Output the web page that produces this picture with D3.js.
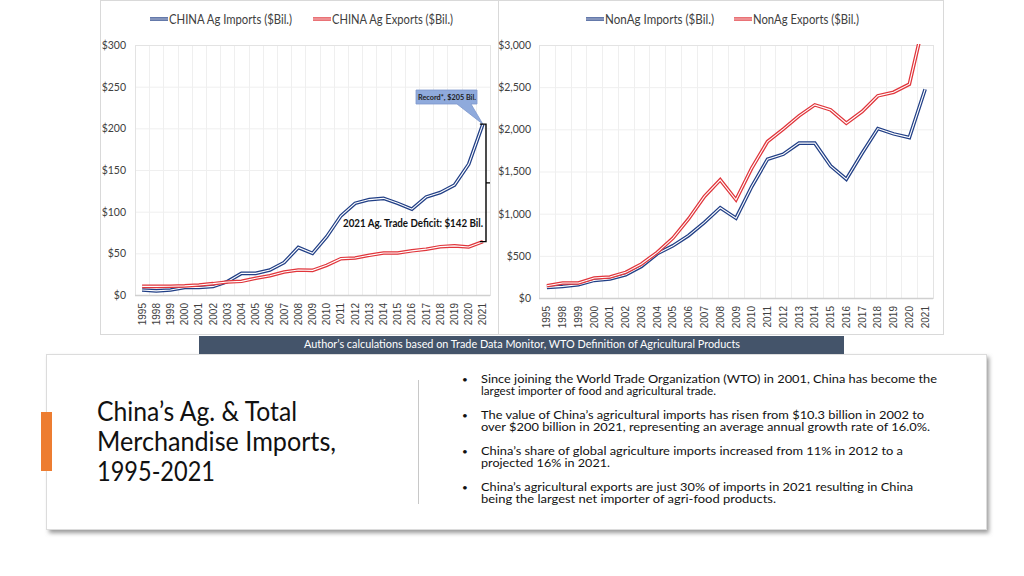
<!DOCTYPE html>
<html><head><meta charset="utf-8">
<script src="https://cdn.jsdelivr.net/npm/d3@7"></script>
<style>
body{margin:0;background:#fff;}
svg{display:block;}
</style></head>
<body>
<svg id="c" width="1024" height="576"></svg>
<script>
const years = ["1995","1998","1999","2000","2001","2002","2003","2004","2005","2006","2007","2008","2009","2010","2011","2012","2013","2014","2015","2016","2017","2018","2019","2020","2021"];
const agImports = [6,5,6,9,9,10.3,16,26,26,30,39,57,50,70,95,110,114.5,116,110,103,117.5,123,132,157,205];
const agExports = [10.4,10.4,10.5,11,12,13.6,15.6,16.4,20,23,27.6,30,29.6,35.6,43.6,44.4,47.6,50.4,50.4,53,55,58,59,57.6,64];
const nonAgImports = [126,138,158,209,225,276,375,525,620,742,896,1070,947,1322,1646,1705,1836,1836,1567,1409,1717,2009,1946,1903,2475];
const nonAgExports = [146,178,178,237,249,304,403,541,711,940,1204,1401,1165,1540,1855,2002,2160,2290,2231,2073,2211,2397,2440,2535,3340];
const agTicks = [0,50,100,150,200,250,300];
const nonAgTicks = [0,500,1000,1500,2000,2500,3000];
const bullets = [
 ["Since joining the World Trade Organization (WTO) in 2001, China has become the","largest importer of food and agricultural trade."],
 ["The value of China\u2019s agricultural imports has risen from $10.3 billion in 2002 to","over $200 billion in 2021, representing an average annual growth rate of 16.0%."],
 ["China\u2019s share of global agriculture imports increased from 11% in 2012 to a","projected 16% in 2021."],
 ["China\u2019s agricultural exports are just 30% of imports in 2021 resulting in China","being the largest net importer of agri-food products."]
];
const titleLines = ["China\u2019s Ag. & Total","Merchandise Imports,","1995-2021"];

const bulletWidths = [[456,235],[443,449],[422,129],[432,295]];
const titleWidths = [200,239,118];

const BLUE = "#213f86", RED = "#e0353b";
const FONT = "Lato,'Liberation Sans',sans-serif";
const SANS = "'Liberation Sans',Arial,sans-serif";
const svg = d3.select("#c");
const defs = svg.append("defs");
const f = defs.append("filter").attr("id","sh").attr("x","-5%").attr("y","-10%").attr("width","110%").attr("height","130%");
f.append("feGaussianBlur").attr("stdDeviation",2);

function fit(sel,w){ return sel.attr("textLength",w).attr("lengthAdjust","spacingAndGlyphs"); }

svg.append("rect").attr("x",100.5).attr("y",0.5).attr("width",398).attr("height",334).attr("fill","#fff").attr("stroke","#d9d9d9");
svg.append("rect").attr("x",498.5).attr("y",0.5).attr("width",445).attr("height",334).attr("fill","#fff").attr("stroke","#d9d9d9");

function chart(opt){
  const g = svg.append("g");
  const x = d3.scaleBand().domain(years).range([opt.x0,opt.x1]);
  const y = d3.scaleLinear().domain([0,opt.max]).range([opt.y0,45]);
  g.selectAll(".hg").data(opt.ticks).join("line")
    .attr("x1",opt.x0).attr("x2",opt.x1).attr("y1",d=>y(d)+0.5).attr("y2",d=>y(d)+0.5)
    .attr("stroke","#efefef");
  g.selectAll(".vg").data(years.slice(1)).join("line")
    .attr("x1",d=>Math.round(x(d))+0.5).attr("x2",d=>Math.round(x(d))+0.5).attr("y1",45).attr("y2",opt.y0)
    .attr("stroke","#efefef");
  g.append("rect").attr("x",opt.x0+0.5).attr("y",45.5).attr("width",opt.x1-opt.x0).attr("height",opt.y0-45)
    .attr("fill","none").attr("stroke","#e3e3e3");
  g.append("line").attr("x1",opt.x0).attr("x2",opt.x1).attr("y1",opt.y0+0.5).attr("y2",opt.y0+0.5).attr("stroke","#d0d0d0").attr("stroke-width",1.5);
  const ya = d3.axisLeft(y).tickValues(opt.ticks).tickSize(0).tickPadding(0).tickFormat(opt.fmt);
  const yg = g.append("g").attr("transform",`translate(${opt.ylab},0)`).call(ya);
  yg.select(".domain").remove();
  yg.selectAll("text").attr("font-family",FONT).attr("font-size","10.5px").attr("fill","#404040");
  const xa = d3.axisBottom(x).tickSize(0).tickPadding(0);
  const xg = g.append("g").attr("transform",`translate(0,${opt.y0+8})`).call(xa);
  xg.select(".domain").remove();
  xg.selectAll("text").attr("transform","rotate(-90)").attr("text-anchor","end").attr("dy","0.35em").attr("dx","0")
    .attr("x",0).attr("y",0)
    .attr("font-family",SANS).attr("font-size","10px").attr("fill","#404040");
  const cid = "clip"+opt.id;
  defs.append("clipPath").attr("id",cid).append("rect").attr("x",opt.x0).attr("y",44).attr("width",opt.x1-opt.x0).attr("height",opt.y0-40);
  const line = d3.line().x((d,i)=>x(years[i])+x.bandwidth()/2).y(d=>y(d));
  const lg = g.append("g").attr("clip-path",`url(#${cid})`);
  [[opt.b,BLUE],[opt.r,RED]].forEach(([data,col])=>{
    lg.append("path").attr("d",line(data)).attr("fill","none").attr("stroke",col).attr("stroke-width",3.6).attr("stroke-linejoin","miter");
    lg.append("path").attr("d",line(data)).attr("fill","none").attr("stroke","#fff").attr("stroke-width",1.1).attr("stroke-linejoin","miter");
  });
  opt.leg.forEach(L=>{
    const col = L.c;
    g.append("line").attr("x1",L.x).attr("x2",L.x+18).attr("y1",19).attr("y2",19).attr("stroke",col).attr("stroke-width",3.4);
    g.append("line").attr("x1",L.x).attr("x2",L.x+18).attr("y1",19).attr("y2",19).attr("stroke","#fff").attr("stroke-width",0.9);
    fit(g.append("text").attr("x",L.x+19).attr("y",23.5).text(L.t).attr("font-family",FONT).attr("font-size","13px").attr("fill","#404040"),L.w);
  });
  return {x,y};
}

const L = chart({id:"a",x0:135,x1:490,y0:295,max:300,ticks:agTicks,fmt:d=>"$"+d3.format(",")(d),ylab:126,b:agImports,r:agExports,
  leg:[{x:150,c:BLUE,t:"CHINA Ag Imports ($Bil.)",w:123},{x:313,c:RED,t:"CHINA Ag Exports ($Bil.)",w:121}]});
const R = chart({id:"b",x0:539,x1:933,y0:298,max:3000,ticks:nonAgTicks,fmt:d=>"$"+d3.format(",")(d),ylab:531,b:nonAgImports,r:nonAgExports,
  leg:[{x:586,c:BLUE,t:"NonAg Imports ($Bil.)",w:109},{x:734,c:RED,t:"NonAg Exports ($Bil.)",w:106}]});

const last = years.length-1;
const px = L.x(years[last]) + L.x.bandwidth()/2;
const pyTop = L.y(agImports[last]), pyBot = L.y(agExports[last]);
svg.append("path").attr("d",`M416,90 L477,90 L477,104 L471,104 L${px},${pyTop} L457,104 L416,104 Z`)
  .attr("fill","#8faadc").attr("stroke","#7d97cc").attr("stroke-width",0.8);
fit(svg.append("text").attr("x",418).attr("y",100.3).text("Record*, $205 Bil.")
  .attr("font-family",FONT).attr("font-weight","bold").attr("font-size","8.4px").attr("fill","#222"),58);
const bx = 486;
svg.append("path").attr("d",`M${px-3},${pyTop} L${bx},${pyTop} L${bx},${pyBot} L${px-3},${pyBot} M${bx},${(pyTop+pyBot)/2} L${bx+4},${(pyTop+pyBot)/2}`)
  .attr("fill","none").attr("stroke","#000").attr("stroke-width",1.4);
fit(svg.append("text").attr("x",343).attr("y",226.5).text("2021 Ag. Trade Deficit: $142 Bil.")
  .attr("font-family",FONT).attr("font-weight","bold").attr("font-size","10.4px").attr("fill","#111"),140);

svg.append("rect").attr("x",49).attr("y",357).attr("width",940).attr("height",176).attr("fill","#9a9a9a").attr("filter","url(#sh)");
svg.append("rect").attr("x",46.5).attr("y",354.5).attr("width",940).attr("height",175).attr("fill","#fff").attr("stroke","#dcdcdc");
svg.append("rect").attr("x",199).attr("y",336).attr("width",645).attr("height",18).attr("fill","#44546a");
fit(svg.append("text").attr("x",304).attr("y",348.3)
  .text("Author\u2019s calculations based on Trade Data Monitor, WTO Definition of Agricultural Products")
  .attr("font-family",FONT).attr("font-size","11px").attr("fill","#fff"),436);
svg.append("rect").attr("x",41).attr("y",412).attr("width",11).attr("height",59).attr("fill","#ed7d31");
const tg = svg.append("g").attr("font-family",FONT).attr("font-weight",400).attr("font-size","27px").attr("fill","#111");
titleLines.forEach((t,i)=>fit(tg.append("text").attr("x",97).attr("y",421+i*30).text(t),titleWidths[i]));
svg.append("line").attr("x1",418.5).attr("x2",418.5).attr("y1",380).attr("y2",504).attr("stroke","#c8c8c8");
const bg = svg.append("g").attr("font-family",FONT).attr("font-size","12px").attr("fill","#111");
bullets.forEach((b,i)=>{
  const y0 = 383 + i*36;
  bg.append("text").attr("x",462).attr("y",y0-0.5).text("\u2022").attr("font-size","10px");
  const t = bg.append("text");
  b.forEach((s,j)=>fit(t.append("tspan").attr("x",481).attr("y",y0+j*12).text(s),bulletWidths[i][j]));
});
</script>
</body></html>
